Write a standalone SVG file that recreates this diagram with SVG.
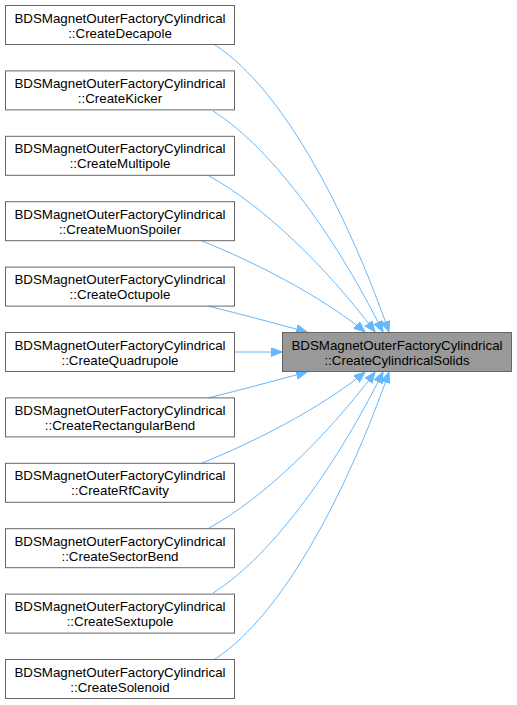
<svg xmlns="http://www.w3.org/2000/svg" width="517" height="705" viewBox="0 0 517 705">
<style>
.n rect{fill:#fff;stroke:#666;stroke-width:1}
.t rect{fill:#999;stroke:#666;stroke-width:1}
text{font-family:"Liberation Sans",Arial,sans-serif;font-size:13.33px;fill:#000;text-anchor:middle}
.e path{fill:none;stroke:#63b8ff;stroke-width:1;marker-end:url(#ah)}
</style>
<defs>
<marker id="ah" markerUnits="userSpaceOnUse" markerWidth="12" markerHeight="10" refX="11" refY="4.5" orient="auto">
<path d="M0,0 L11,4.5 L0,9 z" fill="#63b8ff" stroke="#63b8ff" stroke-width="1"/>
</marker>
</defs>
<g class="e" id="edges">
<path d="M215,45 C285,90 350,220 389,332"/>
<path d="M213,111 C275,150 340,245 383,332"/>
<path d="M209,176 C262,205 325,265 375,332"/>
<path d="M202,241 C250,260 320,295 365,332"/>
<path d="M208,306 C240,314 270,322 307,332"/>
<path d="M235,352 L282,352"/>
<path d="M208,398 C240,390 270,382 307,372"/>
<path d="M202,463 C250,444 320,409 365,372"/>
<path d="M209,528 C262,499 325,439 375,372"/>
<path d="M213,593 C275,554 340,459 383,372"/>
<path d="M215,659 C285,614 350,484 389,372"/>
</g>
<g class="t" id="target"><rect x="282.5" y="332.5" width="229" height="39"/><text x="397" y="349.5">BDSMagnetOuterFactoryCylindrical</text><text x="397" y="364.5">::CreateCylindricalSolids</text></g>
<g class="n" id="n1"><rect x="5.5" y="5.5" width="229" height="39"/><text x="120" y="22.5">BDSMagnetOuterFactoryCylindrical</text><text x="120" y="37.5">::CreateDecapole</text></g>
<g class="n" id="n2"><rect x="5.5" y="70.9" width="229" height="39"/><text x="120" y="87.9">BDSMagnetOuterFactoryCylindrical</text><text x="120" y="102.9">::CreateKicker</text></g>
<g class="n" id="n3"><rect x="5.5" y="136.3" width="229" height="39"/><text x="120" y="153.3">BDSMagnetOuterFactoryCylindrical</text><text x="120" y="168.3">::CreateMultipole</text></g>
<g class="n" id="n4"><rect x="5.5" y="201.7" width="229" height="39"/><text x="120" y="218.7">BDSMagnetOuterFactoryCylindrical</text><text x="120" y="233.7">::CreateMuonSpoiler</text></g>
<g class="n" id="n5"><rect x="5.5" y="267.1" width="229" height="39"/><text x="120" y="284.1">BDSMagnetOuterFactoryCylindrical</text><text x="120" y="299.1">::CreateOctupole</text></g>
<g class="n" id="n6"><rect x="5.5" y="332.5" width="229" height="39"/><text x="120" y="349.5">BDSMagnetOuterFactoryCylindrical</text><text x="120" y="364.5">::CreateQuadrupole</text></g>
<g class="n" id="n7"><rect x="5.5" y="397.9" width="229" height="39"/><text x="120" y="414.9">BDSMagnetOuterFactoryCylindrical</text><text x="120" y="429.9">::CreateRectangularBend</text></g>
<g class="n" id="n8"><rect x="5.5" y="463.3" width="229" height="39"/><text x="120" y="480.3">BDSMagnetOuterFactoryCylindrical</text><text x="120" y="495.3">::CreateRfCavity</text></g>
<g class="n" id="n9"><rect x="5.5" y="528.7" width="229" height="39"/><text x="120" y="545.7">BDSMagnetOuterFactoryCylindrical</text><text x="120" y="560.7">::CreateSectorBend</text></g>
<g class="n" id="n10"><rect x="5.5" y="594.1" width="229" height="39"/><text x="120" y="611.1">BDSMagnetOuterFactoryCylindrical</text><text x="120" y="626.1">::CreateSextupole</text></g>
<g class="n" id="n11"><rect x="5.5" y="659.5" width="229" height="39"/><text x="120" y="676.5">BDSMagnetOuterFactoryCylindrical</text><text x="120" y="691.5">::CreateSolenoid</text></g>
</svg>
